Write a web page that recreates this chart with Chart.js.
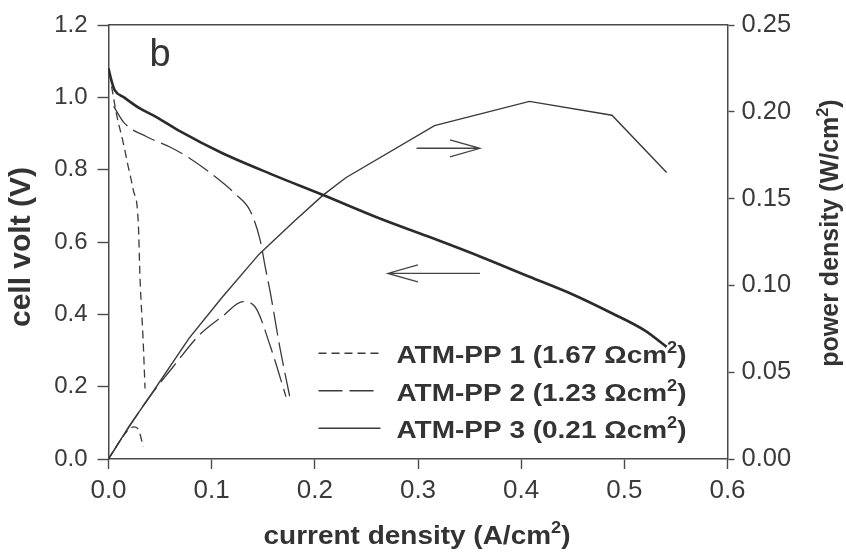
<!DOCTYPE html>
<html>
<head>
<meta charset="utf-8">
<script src="https://cdn.jsdelivr.net/npm/chart.js@4.4.1/dist/chart.umd.min.js"></script>
<style>
  html, body { margin: 0; padding: 0; background: #fff; }
  #wrap { width: 846px; height: 554px; position: relative; }
</style>
</head>
<body>
<div id="wrap"><canvas id="chart"></canvas></div>
<script>
// current density (A/cm2) vs cell voltage (V) and power density (W/cm2)
const seriesNames = ['ATM-PP 1', 'ATM-PP 2', 'ATM-PP 3'];
const resistances = ['1.67', '1.23', '0.21'];

const pp1VoltI = [0.003, 0.008, 0.0144, 0.019, 0.024, 0.0289, 0.0305, 0.0337, 0.0354];
const pp1Volt  = [1.03, 0.95, 0.873, 0.81, 0.744, 0.652, 0.504, 0.32, 0.195];
const pp1PowI  = [0, 0.01, 0.0208, 0.025, 0.0289, 0.0337];
const pp1Pow   = [0, 0.0095, 0.0177, 0.0185, 0.0171, 0.0071];

const pp2VoltI = [0.005, 0.015, 0.037, 0.06, 0.079, 0.1, 0.124, 0.137, 0.147, 0.152, 0.157, 0.166, 0.176];
const pp2Volt  = [0.975, 0.93, 0.891, 0.862, 0.831, 0.788, 0.73, 0.688, 0.605, 0.53, 0.458, 0.31, 0.168];
const pp2PowI  = [0, 0.02, 0.04, 0.0625, 0.088, 0.11, 0.1306, 0.142, 0.157, 0.172];
const pp2Pow   = [0, 0.0185, 0.036, 0.053, 0.0714, 0.082, 0.0906, 0.0877, 0.0647, 0.0359];

const pp3VoltI = [0, 0.003, 0.006, 0.015, 0.03, 0.046, 0.07, 0.11, 0.16, 0.208, 0.263, 0.31, 0.36, 0.408, 0.45, 0.488, 0.52, 0.541];
const pp3Volt  = [1.08, 1.045, 1.02, 1.0, 0.97, 0.946, 0.905, 0.846, 0.785, 0.73, 0.665, 0.615, 0.56, 0.504, 0.455, 0.403, 0.355, 0.31];
const pp3PowI  = [0, 0.02, 0.04, 0.078, 0.11, 0.146, 0.18, 0.208, 0.23, 0.316, 0.408, 0.488, 0.541];
const pp3Pow   = [0, 0.019, 0.036, 0.0695, 0.093, 0.118, 0.137, 0.152, 0.162, 0.192, 0.206, 0.198, 0.165];

// arrows: [x from, x to, y value]
const powerArrow = [0.2986, 0.36, 0.179];
const voltArrow  = [0.36, 0.2708, 0.513];

const xTicks = [0, 0.1, 0.2, 0.3, 0.4, 0.5, 0.6];

const shortDash = [8, 5];
const longDash = [24, 7];
const ink = '#333';

function pts(xs, ys) {
  return xs.map((x, i) => ({ x: x, y: ys[i] }));
}

function line(label, data, axis, dash, width, opts) {
  return Object.assign({
    label: label,
    data: data,
    yAxisID: axis,
    borderColor: '#3a3a3a',
    borderWidth: width,
    borderDash: dash,
    pointRadius: 0,
    fill: false,
    cubicInterpolationMode: 'monotone'
  }, opts || {});
}

// draw text made of parts, some of them superscript
function drawText(ctx, parts, o) {
  ctx.save();
  ctx.translate(o.x, o.y);
  if (o.rotate) ctx.rotate(o.rotate);
  const subSize = o.size * 0.65;
  const fonts = parts.map(p => (o.weight || 'normal') + ' ' + (p.sup ? subSize : o.size) + 'px "Liberation Sans", Arial, sans-serif');
  const widths = parts.map((p, i) => { ctx.font = fonts[i]; return ctx.measureText(p.t).width; });
  const total = widths.reduce((a, b) => a + b, 0);
  if (o.width) ctx.scale(o.width / total, 1);
  let x = o.align === 'left' ? 0 : -total / 2;
  ctx.fillStyle = o.color || ink;
  ctx.textBaseline = 'alphabetic';
  ctx.textAlign = 'left';
  parts.forEach((p, i) => {
    ctx.font = fonts[i];
    ctx.fillText(p.t, x, p.sup ? -o.size * 0.42 : 0);
    x += widths[i];
  });
  ctx.restore();
}

function arrow(ctx, x1, y1, x2, y2) {
  const dir = Math.sign(x2 - x1);
  ctx.beginPath();
  ctx.moveTo(x1, y1);
  ctx.lineTo(x2, y2);
  ctx.moveTo(x2 - dir * 30, y2 - 8.5);
  ctx.lineTo(x2, y2);
  ctx.lineTo(x2 - dir * 30, y2 + 8.5);
  ctx.stroke();
}

const extras = {
  id: 'extras',
  afterDatasetsDraw(chart) {
    const ctx = chart.ctx;
    const a = chart.chartArea;
    const sx = chart.scales.x, sy = chart.scales.y, sp = chart.scales.y1;

    // panel letter
    drawText(ctx, [{ t: 'b' }], { x: a.left + 41, y: a.top + 41, size: 38, align: 'left' });

    // arrows
    ctx.save();
    ctx.strokeStyle = '#444';
    ctx.lineWidth = 1.3;
    arrow(ctx, sx.getPixelForValue(powerArrow[0]), sp.getPixelForValue(powerArrow[2]),
               sx.getPixelForValue(powerArrow[1]), sp.getPixelForValue(powerArrow[2]));
    arrow(ctx, sx.getPixelForValue(voltArrow[0]), sy.getPixelForValue(voltArrow[2]),
               sx.getPixelForValue(voltArrow[1]), sy.getPixelForValue(voltArrow[2]));
    ctx.restore();

    // legend
    const dashes = [shortDash, longDash, []];
    seriesNames.forEach((name, i) => {
      const ly = a.top + 328.3 + i * 37.5;
      ctx.save();
      ctx.strokeStyle = '#3a3a3a';
      ctx.lineWidth = 1.4;
      ctx.setLineDash(dashes[i]);
      ctx.beginPath();
      ctx.moveTo(a.left + 210, ly);
      ctx.lineTo(a.left + 272, ly);
      ctx.stroke();
      ctx.restore();
      drawText(ctx, [{ t: name + ' (' + resistances[i] + ' \u03A9cm' }, { t: '2', sup: true }, { t: ')' }],
        { x: a.left + 288, y: ly + 10, size: 24.5, weight: 'bold', align: 'left', width: 290 });
    });

    // axis titles
    drawText(ctx, [{ t: 'current density (A/cm' }, { t: '2', sup: true }, { t: ')' }],
      { x: (a.left + a.right) / 2 - 1, y: 544, size: 26, weight: 'bold', width: 307 });
    drawText(ctx, [{ t: 'cell volt (V)' }],
      { x: 30, y: 247, size: 30, weight: 'bold', rotate: -Math.PI / 2 });
    drawText(ctx, [{ t: 'power density (W/cm' }, { t: '2', sup: true }, { t: ')' }],
      { x: 838, y: 233, size: 25, weight: 'bold', rotate: -Math.PI / 2 });
  }
};

const axisColor = '#4a4a4a';
const tickFont = (s) => ({ family: '"Liberation Sans", Arial, sans-serif', size: s });

new Chart(document.getElementById('chart'), {
  type: 'line',
  data: {
    datasets: [
      line(seriesNames[0] + ' V', pts(pp1VoltI, pp1Volt), 'y', shortDash, 1.3),
      line(seriesNames[0] + ' P', pts(pp1PowI, pp1Pow), 'y1', shortDash, 1.3),
      line(seriesNames[1] + ' V', pts(pp2VoltI, pp2Volt), 'y', longDash, 1.3),
      line(seriesNames[1] + ' P', pts(pp2PowI, pp2Pow), 'y1', longDash, 1.3),
      line(seriesNames[2] + ' V', pts(pp3VoltI, pp3Volt), 'y', [], 2.6, { borderColor: '#2b2b2b' }),
      line(seriesNames[2] + ' P', pts(pp3PowI, pp3Pow), 'y1', [], 1.4, { tension: 0, cubicInterpolationMode: 'default' })
    ]
  },
  options: {
    responsive: true,
    maintainAspectRatio: false,
    animation: false,
    layout: { padding: 0 },
    plugins: { legend: { display: false }, tooltip: { enabled: false } },
    scales: {
      x: {
        type: 'linear', position: 'bottom', min: 0, max: 0.6,
        afterBuildTicks: (s) => { s.ticks = xTicks.map(v => ({ value: v })); },
        afterFit: (s) => { s.height = 95; },
        ticks: { autoSkip: false, maxRotation: 0, padding: 6, color: '#3a3a3a', font: tickFont(26),
                 callback: (v) => v.toFixed(1) },
        grid: { drawOnChartArea: false, drawTicks: true, tickLength: 10, tickWidth: 1.4, tickColor: axisColor },
        border: { color: axisColor, width: 1.5 }
      },
      xTop: {
        type: 'linear', position: 'top', min: 0, max: 0.6,
        afterFit: (s) => { s.height = 25; },
        ticks: { display: false },
        grid: { drawOnChartArea: false, drawTicks: false },
        border: { color: axisColor, width: 1.5 }
      },
      y: {
        position: 'left', min: 0, max: 1.2,
        afterFit: (s) => { s.width = 108.5; },
        ticks: { stepSize: 0.2, padding: 10, color: '#3a3a3a', font: tickFont(24),
                 callback: (v) => v.toFixed(1) },
        grid: { drawOnChartArea: false, drawTicks: true, tickLength: 11, tickWidth: 1.4, tickColor: axisColor },
        border: { color: axisColor, width: 1.5 }
      },
      y1: {
        position: 'right', min: 0, max: 0.25,
        afterFit: (s) => { s.width = 118.5; },
        ticks: { stepSize: 0.05, padding: 7, color: '#3a3a3a', font: tickFont(25.5),
                 callback: (v) => v.toFixed(2) },
        grid: { drawOnChartArea: false, drawTicks: true, tickLength: 7, tickWidth: 1.4, tickColor: axisColor },
        border: { color: axisColor, width: 1.5 }
      }
    }
  },
  plugins: [extras]
});
</script>
</body>
</html>
